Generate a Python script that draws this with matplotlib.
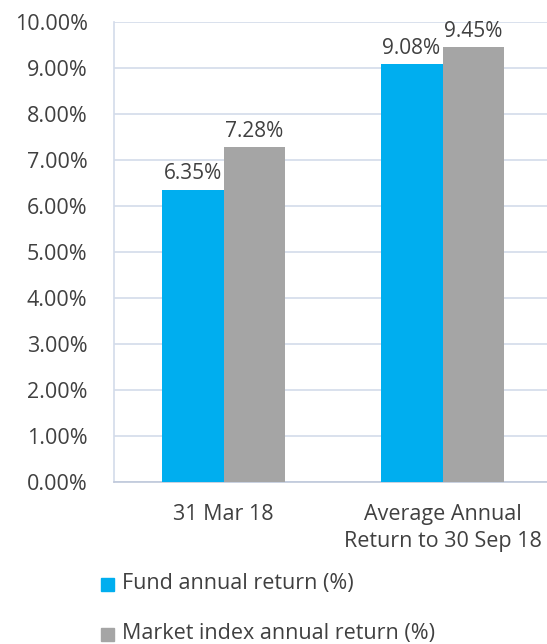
import matplotlib.pyplot as plt
import numpy as np
from matplotlib.patches import Rectangle

plt.rcParams['font.family'] = ['Open Sans', 'DejaVu Sans']

categories = ['31 Mar 18', 'Average Annual\nReturn to 30 Sep 18']
fund = [6.35, 9.08]
market = [7.28, 9.45]
series_names = ['Fund annual return (%)', 'Market index annual return (%)']
colors = ['#00AEEF', '#A5A5A5']
txt = '#404040'
grid = '#D3DBEA'

fig = plt.figure(figsize=(5.47, 6.44), dpi=100)
W, H = 547, 644
# axes: left 114px, top 22px, bottom 482px, extends past the right edge
ax = fig.add_axes([114 / W, (H - 482) / H, 438 / W, 460 / H])

x = np.arange(len(categories))
w = 0.283
b1 = ax.bar(x - w / 2, fund, w, color=colors[0], zorder=3)
b2 = ax.bar(x + w / 2, market, w, color=colors[1], zorder=3)

for bars, vals in ((b1, fund), (b2, market)):
    for r, v in zip(bars, vals):
        ax.annotate(f'{v:.2f}%', (r.get_x() + r.get_width() / 2, v),
                    xytext=(0, 4), textcoords='offset points',
                    ha='center', va='bottom', fontsize=15, color=txt)

ax.set_xlim(-0.5, 1.5)
ax.set_ylim(0, 10)
ax.set_yticks(np.arange(0, 11, 1))
ax.set_yticklabels([f'{v:.2f}%' for v in range(11)])
ax.set_xticks(x)
ax.set_xticklabels(categories, linespacing=1.35)
ax.tick_params(axis='both', length=0, labelsize=15.5, colors=txt)
ax.tick_params(axis='y', pad=19)
ax.tick_params(axis='x', pad=16)
ax.yaxis.grid(True, color=grid, linewidth=1.2, zorder=0)
for s in ('top', 'right'):
    ax.spines[s].set_visible(False)
ax.spines['left'].set_color(grid)
ax.spines['left'].set_linewidth(1.2)
ax.spines['bottom'].set_color('#BFC8DA')
ax.spines['bottom'].set_linewidth(1.2)

# legend below, stacked
for i, (name, c) in enumerate(zip(series_names, colors)):
    yc = 584 + i * 50
    fig.patches.append(Rectangle((101 / W, (H - yc - 6.5) / H), 13 / W, 13 / H,
                                 transform=fig.transFigure, color=c))
    fig.text(122 / W, (H - yc) / H, name, fontsize=15.5, color=txt, va='center', ha='left')

fig.savefig('out.png', dpi=100)
